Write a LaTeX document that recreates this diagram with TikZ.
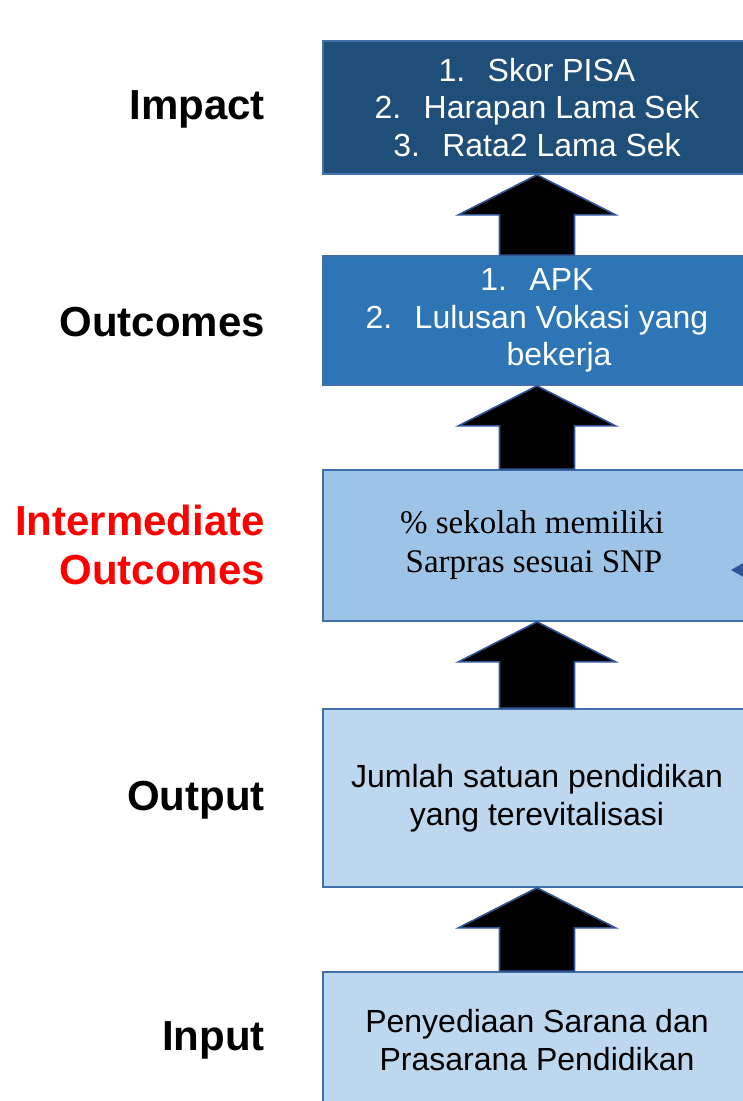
\documentclass[tikz,border=0pt]{standalone}
\usepackage{fontspec}
\setmainfont{Liberation Sans}
\newfontfamily\serifbox{Liberation Serif}
\usetikzlibrary{calc}
\definecolor{bdark}{RGB}{31,78,121}
\definecolor{bmid}{RGB}{46,117,182}
\definecolor{blight}{RGB}{157,195,230}
\definecolor{bpale}{RGB}{189,215,238}
\definecolor{bline}{RGB}{65,113,170}
\definecolor{aline}{RGB}{47,85,151}
\definecolor{lblred}{RGB}{255,0,0}
\tikzset{
  lvlbox/.style={draw=bline, line width=1.6pt, minimum width=428pt, inner sep=0pt,
     align=center, font=\fontsize{32}{37.5}\selectfont},
  lvllabel/.style={anchor=east, align=right, inner sep=0pt, font=\fontsize{42}{49}\selectfont\bfseries},
  blkarr/.style={fill=black, draw=aline, line width=1.6pt, line join=miter}
}
\newcommand{\blkarrow}[2]{%
  \draw[blkarr] ($(#1.north)+(-37.5,0)$) -- ($(#2.south)+(-37.5,40)$) -- ($(#2.south)+(-78.5,40)$)
   -- (#2.south) -- ($(#2.south)+(78.5,40)$) -- ($(#2.south)+(37.5,40)$) -- ($(#1.north)+(37.5,0)$) -- cycle;}
\begin{document}
\begin{tikzpicture}[x=1pt,y=-1pt]
\useasboundingbox (0,0) rectangle (743,1101);
\node[lvlbox, fill=bdark, text=white, minimum height=133pt] (b1) at (537,107.5)
  {1.\hspace{0.7em}Skor PISA\\2.\hspace{0.7em}Harapan Lama Sek\\3.\hspace{0.7em}Rata2 Lama Sek};
\node[lvlbox, fill=bmid, text=white, minimum height=129pt] (b2) at (537,320.5)
  {1.\hspace{0.7em}APK\\2.\hspace{0.7em}Lulusan Vokasi yang\\\hspace*{44pt}bekerja};
\node[lvlbox, fill=blight, minimum height=151pt, font=\serifbox\fontsize{33}{39}\selectfont] (b3) at (537,545.5)
  {\% sekolah memiliki\hspace*{10pt}\\Sarpras sesuai SNP\hspace*{6pt}};
\node[lvlbox, fill=bpale, minimum height=178pt] (b4) at (537,798)
  {Jumlah satuan pendidikan\\yang terevitalisasi};
\node[lvlbox, fill=bpale, minimum height=136pt] (b5) at (537,1040)
  {Penyediaan Sarana dan\\Prasarana Pendidikan};
\blkarrow{b2}{b1}
\blkarrow{b3}{b2}
\blkarrow{b4}{b3}
\blkarrow{b5}{b4}
\coordinate (pin) at (731,570);
\fill[aline] (pin) -- ++(14,-8) -- ++(0,16) -- cycle;
\node[lvllabel] (l1) at (265,109) {Impact};
\node[lvllabel] (l2) at (265,322) {Outcomes};
\node[lvllabel, text=lblred] (l3) at (265,545) {Intermediate\\Outcomes};
\node[lvllabel] (l4) at (265,800) {Output};
\node[lvllabel] (l5) at (265,1040) {Input};
\end{tikzpicture}
\end{document}
